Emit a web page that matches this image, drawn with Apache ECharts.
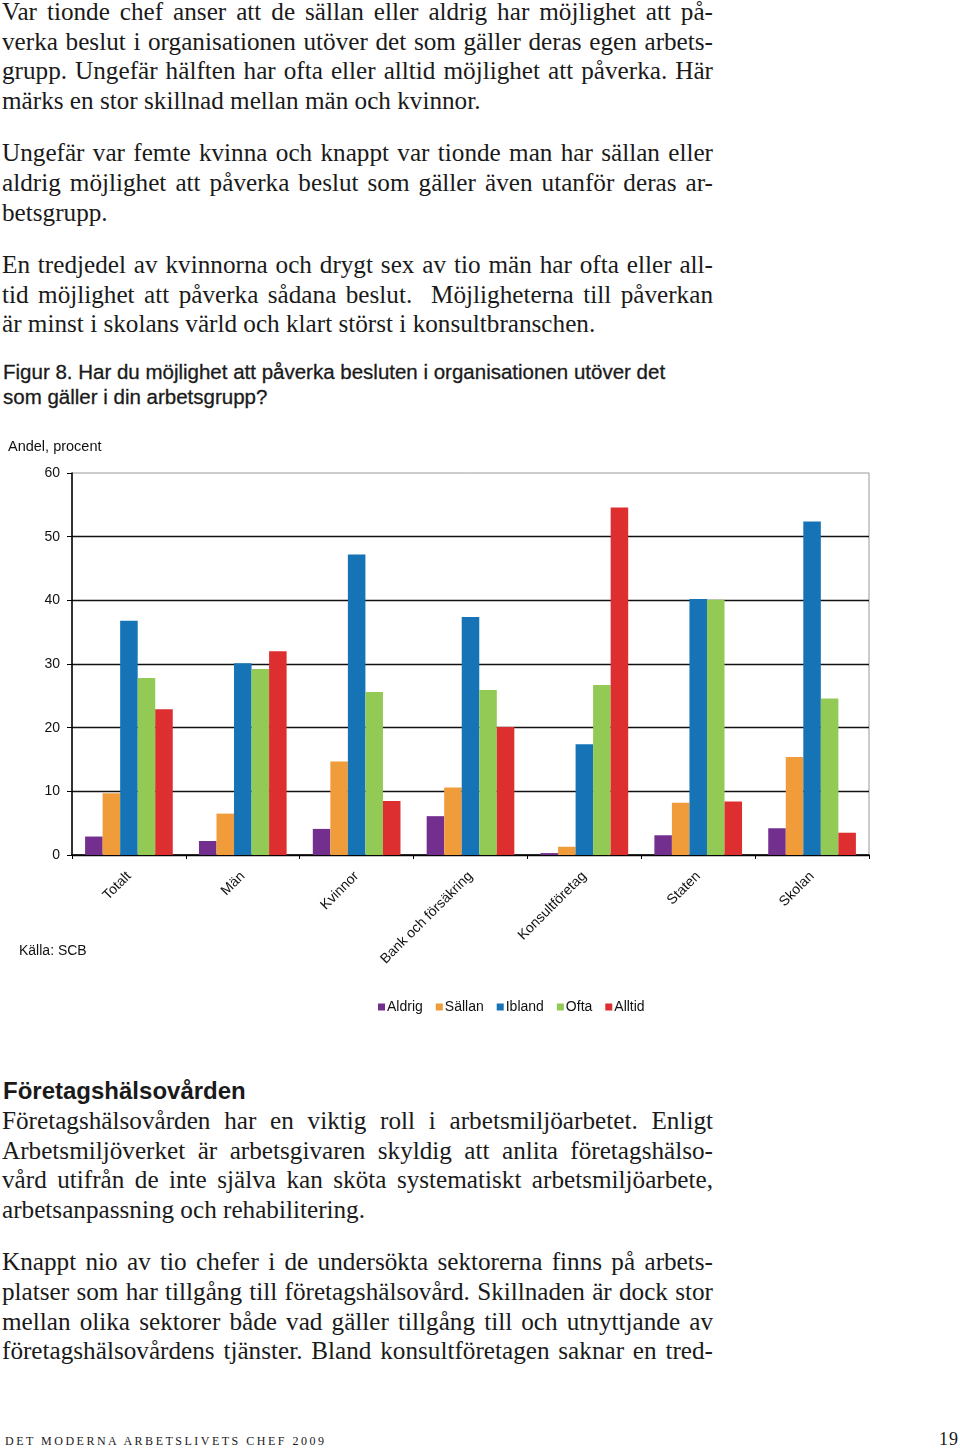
<!DOCTYPE html>
<html><head><meta charset="utf-8">
<script src="https://cdn.jsdelivr.net/npm/echarts@6/dist/echarts.min.js"></script>
<style>
html,body{margin:0;padding:0;background:#fff;width:960px;height:1451px;overflow:hidden;}
.l{position:absolute;left:2px;width:711px;font-family:"Liberation Serif",serif;font-size:25.2px;line-height:30px;color:#1a1a1a;white-space:nowrap;}
.j{text-align:justify;text-align-last:justify;}
.s{position:absolute;left:3px;font-family:"Liberation Sans",Arial,sans-serif;font-size:20.5px;line-height:24px;color:#1a1a1a;white-space:nowrap;-webkit-text-stroke:0.3px #1a1a1a;}
#chart{position:absolute;left:0;top:430px;width:960px;height:600px;}
</style></head><body>
<div class="l j" style="top:-3px">Var tionde chef anser att de sällan eller aldrig har möjlighet att på-</div>
<div class="l j" style="top:27px">verka beslut i organisationen utöver det som gäller deras egen arbets-</div>
<div class="l j" style="top:56px">grupp. Ungefär hälften har ofta eller alltid möjlighet att påverka. Här</div>
<div class="l" style="top:86px">märks en stor skillnad mellan män och kvinnor.</div>
<div class="l j" style="top:138px">Ungefär var femte kvinna och knappt var tionde man har sällan eller</div>
<div class="l j" style="top:168px">aldrig möjlighet att påverka beslut som gäller även utanför deras ar-</div>
<div class="l" style="top:198px">betsgrupp.</div>
<div class="l j" style="top:250px">En tredjedel av kvinnorna och drygt sex av tio män har ofta eller all-</div>
<div class="l j" style="top:280px">tid möjlighet att påverka sådana beslut.&nbsp; Möjligheterna till påverkan</div>
<div class="l" style="top:309px">är minst i skolans värld och klart störst i konsultbranschen.</div>
<div class="s" style="top:360px">Figur 8. Har du möjlighet att påverka besluten i organisationen utöver det</div>
<div class="s" style="top:385px">som gäller i din arbetsgrupp?</div>
<div id="chart"></div>
<div class="s" style="top:1079px;font-size:24px;font-weight:bold;-webkit-text-stroke:0;">Företagshälsovården</div>
<div class="l j" style="top:1106px">Företagshälsovården har en viktig roll i arbetsmiljöarbetet. Enligt</div>
<div class="l j" style="top:1136px">Arbetsmiljöverket är arbetsgivaren skyldig att anlita företagshälso-</div>
<div class="l j" style="top:1165px">vård utifrån de inte själva kan sköta systematiskt arbetsmiljöarbete,</div>
<div class="l" style="top:1195px">arbetsanpassning och rehabilitering.</div>
<div class="l j" style="top:1247px">Knappt nio av tio chefer i de undersökta sektorerna finns på arbets-</div>
<div class="l j" style="top:1277px">platser som har tillgång till företagshälsovård. Skillnaden är dock stor</div>
<div class="l j" style="top:1307px">mellan olika sektorer både vad gäller tillgång till och utnyttjande av</div>
<div class="l j" style="top:1336px">företagshälsovårdens tjänster. Bland konsultföretagen saknar en tred-</div>
<div style="position:absolute;left:5px;top:1434px;font-family:'Liberation Serif',serif;font-size:12px;letter-spacing:2.5px;color:#1a1a1a;white-space:nowrap;">DET MODERNA ARBETSLIVETS CHEF 2009</div>
<div style="position:absolute;left:939px;top:1429px;font-family:'Liberation Serif',serif;font-size:18px;letter-spacing:1px;color:#1a1a1a;">19</div>
<script>
var categories = ['Totalt', 'Män', 'Kvinnor', 'Bank och försäkring', 'Konsultföretag', 'Staten', 'Skolan'];
var aldrig = [2.9, 2.2, 4.1, 6.1, 0.3, 3.1, 4.2];
var sallan = [9.7, 6.5, 14.7, 10.6, 1.3, 8.2, 15.4];
var ibland = [36.8, 30.1, 47.2, 37.4, 17.4, 40.2, 52.4];
var ofta = [27.8, 29.2, 25.6, 25.9, 26.7, 40.1, 24.6];
var alltid = [22.9, 32.0, 8.5, 20.1, 54.6, 8.4, 3.5];
var seriesNames = ['Aldrig', 'Sällan', 'Ibland', 'Ofta', 'Alltid'];
var seriesData = [aldrig, sallan, ibland, ofta, alltid];
var colors = ['#732f8e', '#f09c3a', '#1573b6', '#93c955', '#de2f30'];
var yTicks = [0, 10, 20, 30, 40, 50, 60];

var chart = echarts.init(document.getElementById('chart'), null, {renderer: 'canvas'});
var font = '"Liberation Sans", Arial, sans-serif';
chart.setOption({
  animation: false,
  color: colors,
  textStyle: {fontFamily: font},
  grid: {left: 72, right: 91, top: 43, bottom: 175, show: true, borderColor: '#999', borderWidth: 1},
  title: [
    {text: 'Andel, procent', left: 8, top: 9, padding: 0, textStyle: {fontFamily: font, fontSize: 14.5, fontWeight: 'normal', color: '#111'}},
    {text: 'Källa: SCB', left: 19, top: 514, padding: 0, textStyle: {fontFamily: font, fontSize: 14, fontWeight: 'normal', color: '#111'}}
  ],
  legend: {
    left: 373, top: 565, itemWidth: 7, itemHeight: 7, itemGap: 13, icon: 'rect',
    textStyle: {fontFamily: font, fontSize: 14, color: '#111', padding: [0, 0, 0, -3]},
    data: seriesNames
  },
  xAxis: {
    type: 'category', data: categories,
    axisLine: {lineStyle: {color: '#000', width: 1.5}},
    axisTick: {show: true, length: 4, lineStyle: {color: '#000'}},
    axisLabel: {rotate: 45, margin: 19, fontSize: 14, color: '#111', fontFamily: font, interval: 0}
  },
  yAxis: {
    type: 'value', min: yTicks[0], max: yTicks[yTicks.length - 1], interval: 10,
    axisLine: {show: true, lineStyle: {color: '#000', width: 1.5}},
    axisTick: {show: true, length: 5, lineStyle: {color: '#000'}},
    axisLabel: {margin: 12, fontSize: 14, color: '#111', fontFamily: font},
    splitLine: {show: true, showMaxLine: false, lineStyle: {color: '#111', width: 1.4}}
  },
  series: seriesNames.map(function (n, i) {
    return {name: n, type: 'bar', data: seriesData[i], barGap: '0%', barCategoryGap: '23%'};
  })
});
</script>
</body></html>
